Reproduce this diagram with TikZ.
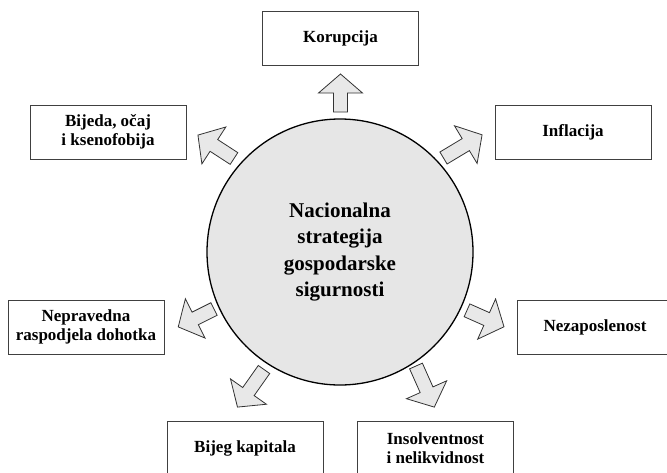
\documentclass[tikz,border=0pt]{standalone}
\usepackage{fontspec}
\setmainfont{Liberation Serif}
\definecolor{boxline}{HTML}{404040}
\definecolor{circfill}{HTML}{E6E6E6}
\definecolor{arrfill}{HTML}{E8E8E8}
\definecolor{arrline}{HTML}{333333}
\newcommand\blockarr[4]{% x y angle length
  \begin{scope}[shift={(#1,#2)}, rotate=#3]
    \draw[barrow] (0,-7) -- (#4-19,-7) -- (#4-19,-22) -- (#4,0) -- (#4-19,22) -- (#4-19,7) -- (0,7) -- cycle;
  \end{scope}}
\begin{document}
\begin{tikzpicture}[x=1pt,y=-1pt,
  box/.style={draw=boxline, line width=0.9pt, minimum width=156pt, minimum height=54pt,
    align=center, inner sep=0pt, font=\bfseries\fontsize{17}{19.5}\selectfont},
  core/.style={circle, draw=black, line width=1.3pt, fill=circfill, minimum size=266pt,
    inner sep=0pt, align=center, font=\bfseries\fontsize{21}{26.3}\selectfont},
  barrow/.style={draw=arrline, line width=0.8pt, fill=arrfill, line join=miter}]
\useasboundingbox (0,0) rectangle (667,472);
\clip (0,0) rectangle (667,472);
\node[core] (core) at (340,252) {Nacionalna\\strategija\\gospodarske\\sigurnosti};
\node[box] (kor) at (340.5,38.5) {Korupcija};
\node[box] (bij) at (108,132) {Bijeda, očaj\\i ksenofobija};
\node[box] (inf) at (573,132) {Inflacija};
\node[box] (nep) at (86,327) {Nepravedna\\raspodjela dohotka};
\node[box] (nez) at (595,327) {Nezaposlenost};
\node[box] (bjk) at (245,448) {Bijeg kapitala};
\node[box] (ins) at (435.5,448) {Insolventnost\\i nelikvidnost};
\blockarr{340.5}{112}{90}{38}
\blockarr{234}{158.5}{147}{43}
\blockarr{443.5}{158}{31}{45}
\blockarr{214}{309}{206.6}{40}
\blockarr{467}{310.3}{-24}{40.5}
\blockarr{264}{369.5}{234.8}{46}
\blockarr{416}{366}{-66}{45}
\end{tikzpicture}
\end{document}
